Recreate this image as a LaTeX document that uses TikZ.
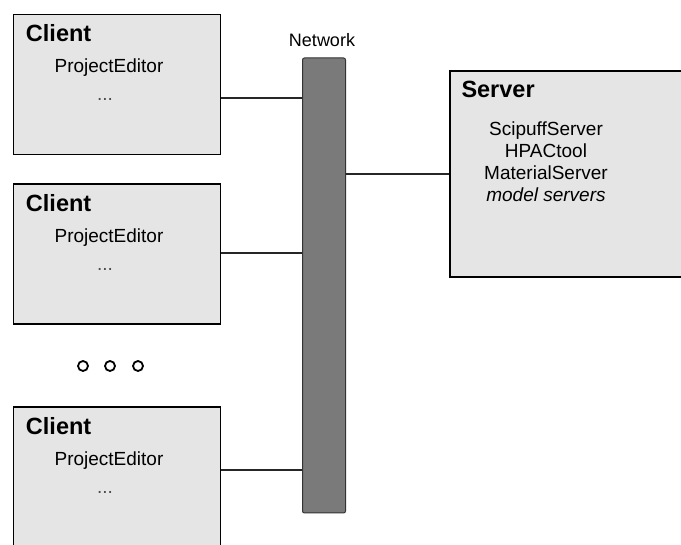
\documentclass[tikz,border=0pt]{standalone}
\usepackage{fontspec}
\setmainfont{Liberation Sans}
\usetikzlibrary{positioning}

\tikzset{
  hostbox/.style = {draw, line width=1.4pt, fill=black!10, inner sep=0pt},
  hosttitle/.style = {anchor=base west, inner sep=0pt, font=\fontsize{23.5}{24}\selectfont\bfseries},
  hosttext/.style = {inner sep=0pt, font=\fontsize{19}{22}\selectfont},
  link/.style = {line width=2.8pt, draw=black!85},
  ellipsisdot/.style = {circle, draw, line width=1.8pt, minimum size=10pt, inner sep=0pt}
}

\begin{document}
\begin{tikzpicture}[x=1pt, y=-1pt]
\clip (0,0) rectangle (681,545);
\fill[white] (0,0) rectangle (681,545);

% network backbone
\node[draw=black!80, line width=1pt, fill=black!52, rounded corners=2pt,
      minimum width=43pt, minimum height=455pt, inner sep=0pt] (net) at (324,285.5) {};
\node[anchor=base, inner sep=0pt, font=\fontsize{18}{18}\selectfont] (netlabel) at (322,47) {Network};

% clients: name/center y/link y
\foreach \i/\cy/\ly in {1/84.5/98, 2/254/253, 3/477/470}{
	\node[hostbox, minimum width=207pt, minimum height=140pt] (c\i) at (117,\cy) {};
	\node[hosttitle] (ct\i) at ([shift={(13,28)}]c\i.north west) {Client};
	\node[hosttext, anchor=base] (cp\i) at ([shift={(-8,59)}]c\i.north) {ProjectEditor};
	\node[hosttext, anchor=base] (cd\i) at ([shift={(-12,87)}]c\i.north) {\textcolor{black!70}{...}};
	\draw[link] (c\i.east |- 0,\ly) -- (net.west |- 0,\ly);
}

% more clients
\foreach \x in {83,110,138}
	\node[ellipsisdot] (more\x) at (\x,366) {};

% server
\node[hostbox, minimum width=240pt, minimum height=206pt] (srv) at (570,174) {};
\node[hosttitle] (srvtitle) at ([shift={(12,27)}]srv.north west) {Server};
\node[hosttext, anchor=north, align=center] (srvlist) at (546,122)
	{ScipuffServer\\HPACtool\\MaterialServer\\\textit{model servers}};
\draw[link] (net.east |- srv.west) -- (srv.west);

\end{tikzpicture}
\end{document}
